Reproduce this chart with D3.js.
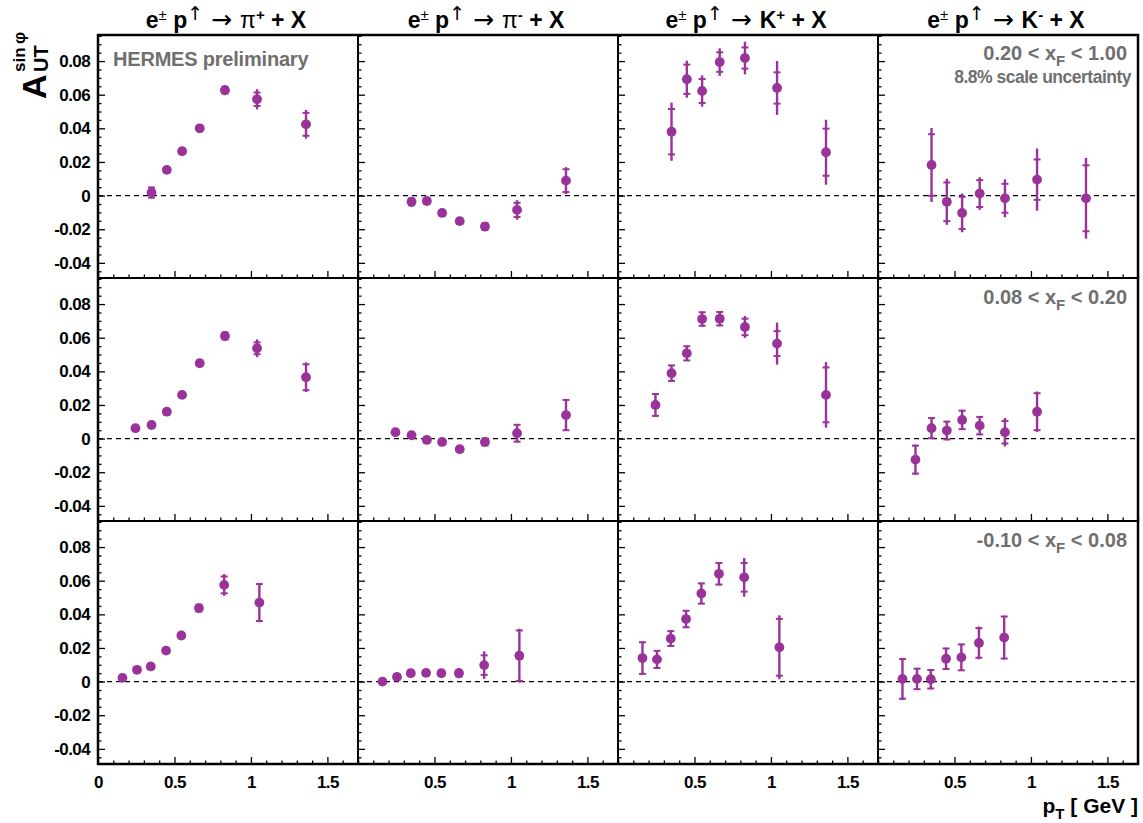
<!DOCTYPE html>
<html>
<head>
<meta charset="utf-8">
<script src="https://cdn.jsdelivr.net/npm/d3@7"></script>
<style>
  body { margin: 0; background: #fff; }
  text { font-family: "Liberation Sans", Arial, sans-serif; }
</style>
</head>
<body>
<div class="chart"></div>
<script>
// pT bin centres (GeV) for the three xF ranges
const pTHigh = [0.35, 0.45, 0.55, 0.665, 0.83, 1.04, 1.36];
const pTMid = [0.245, 0.35, 0.45, 0.55, 0.665, 0.83, 1.04, 1.36];
const pTLow = [0.16, 0.255, 0.345, 0.445, 0.545, 0.66, 0.825, 1.055];

// 0.20 < xF < 1.00
const piPlusHigh = [0.0018, 0.0153, 0.0264, 0.040, 0.0627, 0.0573, 0.0424];
const piPlusHighStat = [0.003, 0.0015, 0.0015, 0.0015, 0.002, 0.004, 0.0068];
const piPlusHighTot = [0.0035, 0.002, 0.002, 0.002, 0.003, 0.006, 0.0085];
const piMinusHigh = [-0.0037, -0.0032, -0.0103, -0.0152, -0.0184, -0.0085, 0.0089];
const piMinusHighStat = [0.002, 0.0015, 0.0015, 0.0015, 0.002, 0.0042, 0.0068];
const piMinusHighTot = [0.003, 0.002, 0.002, 0.002, 0.0028, 0.0058, 0.008];
const kPlusHigh = [0.038, 0.0692, 0.0622, 0.0794, 0.0818, 0.064, 0.0258];
const kPlusHighStat = [0.0135, 0.0087, 0.0071, 0.0058, 0.0063, 0.0093, 0.014];
const kPlusHighTot = [0.0173, 0.011, 0.0093, 0.0082, 0.0097, 0.016, 0.0193];
const kMinusHigh = [0.0182, -0.0037, -0.0103, 0.0012, -0.0016, 0.0095, -0.0016];
const kMinusHighStat = [0.0183, 0.0115, 0.0096, 0.008, 0.0086, 0.012, 0.0196];
const kMinusHighTot = [0.022, 0.0137, 0.0115, 0.0097, 0.0113, 0.0185, 0.024];

// 0.08 < xF < 0.20
const piPlusMid = [0.0062, 0.0081, 0.016, 0.026, 0.0448, 0.061, 0.0537, 0.0365];
const piPlusMidStat = [0.0015, 0.0015, 0.0015, 0.0015, 0.0015, 0.002, 0.0035, 0.0077];
const piPlusMidTot = [0.002, 0.002, 0.002, 0.002, 0.002, 0.0025, 0.0053, 0.0088];
const piMinusMid = [0.0038, 0.002, -0.0008, -0.002, -0.0063, -0.002, 0.0032, 0.014];
const piMinusMidStat = [0.0015, 0.0015, 0.0015, 0.0015, 0.0015, 0.002, 0.005, 0.009];
const piMinusMidTot = [0.002, 0.002, 0.002, 0.002, 0.002, 0.0025, 0.0055, 0.0095];
const kPlusMid = [0.020, 0.0389, 0.0507, 0.0711, 0.0713, 0.0664, 0.0565, 0.026];
const kPlusMidStat = [0.0065, 0.0046, 0.0042, 0.004, 0.004, 0.0049, 0.0074, 0.0163];
const kPlusMidTot = [0.007, 0.005, 0.0046, 0.0044, 0.0044, 0.0065, 0.0125, 0.0195];
const kMinusMid = [-0.0125, 0.0062, 0.0048, 0.0111, 0.0077, 0.0038, 0.016];
const kMinusMidStat = [0.0083, 0.006, 0.0053, 0.0055, 0.0052, 0.0067, 0.011];
const kMinusMidTot = [0.009, 0.0065, 0.0058, 0.006, 0.0057, 0.0085, 0.012];

// -0.10 < xF < 0.08
const piPlusLow = [0.0022, 0.007, 0.009, 0.0184, 0.0274, 0.0437, 0.0575, 0.047];
const piPlusLowStat = [0.0015, 0.0015, 0.0015, 0.0015, 0.0015, 0.002, 0.005, 0.011];
const piPlusLowTot = [0.002, 0.002, 0.002, 0.002, 0.002, 0.0025, 0.0065, 0.0115];
const piMinusLow = [0.0, 0.0028, 0.005, 0.0052, 0.005, 0.005, 0.0098, 0.0154];
const piMinusLowStat = [0.0015, 0.0015, 0.0015, 0.0015, 0.0015, 0.002, 0.0058, 0.015];
const piMinusLowTot = [0.002, 0.002, 0.002, 0.002, 0.002, 0.003, 0.0082, 0.016];
const kPlusLow = [0.014, 0.0132, 0.0256, 0.0372, 0.0524, 0.0641, 0.062, 0.0204];
const kPlusLowStat = [0.0094, 0.0051, 0.0044, 0.0049, 0.006, 0.0064, 0.0085, 0.0169];
const kPlusLowTot = [0.0098, 0.0055, 0.0048, 0.0053, 0.0064, 0.0068, 0.0115, 0.019];
const kMinusLow = [0.0016, 0.0016, 0.0014, 0.0136, 0.0144, 0.023, 0.0262];
const kMinusLowStat = [0.0118, 0.0061, 0.0055, 0.0061, 0.0077, 0.0088, 0.0125];
const kMinusLowTot = [0.0125, 0.0065, 0.0059, 0.0065, 0.0081, 0.0097, 0.013];

const hadrons = [["\u03c0", "+"], ["\u03c0", "-"], ["K", "+"], ["K", "-"]];
const xFLabels = [["0.20 < x", "F", " < 1.00"], ["0.08 < x", "F", " < 0.20"], ["-0.10 < x", "F", " < 0.08"]];
const yMajor = [-0.04, -0.02, 0, 0.02, 0.04, 0.06, 0.08];
const xMajor = [0, 0.5, 1, 1.5];

const panels = [
  [pTHigh, piPlusHigh, piPlusHighStat, piPlusHighTot],
  [pTHigh, piMinusHigh, piMinusHighStat, piMinusHighTot],
  [pTHigh, kPlusHigh, kPlusHighStat, kPlusHighTot],
  [pTHigh, kMinusHigh, kMinusHighStat, kMinusHighTot],
  [pTMid, piPlusMid, piPlusMidStat, piPlusMidTot],
  [pTMid, piMinusMid, piMinusMidStat, piMinusMidTot],
  [pTMid, kPlusMid, kPlusMidStat, kPlusMidTot],
  [pTMid, kMinusMid, kMinusMidStat, kMinusMidTot],
  [pTLow, piPlusLow, piPlusLowStat, piPlusLowTot],
  [pTLow, piMinusLow, piMinusLowStat, piMinusLowTot],
  [pTLow, kPlusLow, kPlusLowStat, kPlusLowTot],
  [pTLow, kMinusLow, kMinusLowStat, kMinusLowTot]
].map((p, i) => ({
  row: Math.floor(i / 4),
  col: i % 4,
  points: p[1].map((v, j) => ({ pT: p[0][j], value: v, stat: p[2][j], tot: p[3][j] }))
}));

const W = 1143, H = 823;
const marginL = 98, marginT = 35, panelW = 260, panelH = 243;
const purple = "#993399", grey = "#6f6f6f";

const svg = d3.select(".chart").append("svg").attr("width", W).attr("height", H);

const x = d3.scaleLinear().domain([0, 1.7]).range([0, panelW]);
const y = d3.scaleLinear().domain([-0.049, 0.0955]).range([panelH, 0]);

const yMinor = d3.range(-45, 96, 5).map(d => d / 1000).filter(d => !yMajor.some(m => Math.abs(m - d) < 1e-9));
const xMinor = d3.range(0, 17.5, 1).map(d => d / 10).filter(d => !xMajor.some(m => Math.abs(m - d) < 1e-9));

// rich text helper: parts of {t, size, weight, shift, family}
const rich = (sel, parts) => {
  let shift = 0;
  parts.forEach(p => {
    const s = p.shift || 0;
    const ts = sel.append("tspan")
      .attr("dy", s - shift)
      .attr("font-size", p.size)
      .attr("font-weight", p.weight || "bold")
      .text(p.t);
    if (p.family) ts.style("font-family", p.family);
    shift = s;
  });
};

panels.forEach(panel => {
  const g = svg.append("g")
    .attr("transform", `translate(${marginL + panel.col * panelW},${marginT + panel.row * panelH})`);

  g.append("line")
    .attr("x1", 0).attr("x2", panelW)
    .attr("y1", y(0)).attr("y2", y(0))
    .attr("stroke", "#000").attr("stroke-width", 1.3)
    .attr("stroke-dasharray", "5,4");

  const pts = g.selectAll(".pt").data(panel.points).enter().append("g");

  pts.append("line")
    .attr("x1", d => x(d.pT)).attr("x2", d => x(d.pT))
    .attr("y1", d => y(d.value - d.tot)).attr("y2", d => y(d.value + d.tot))
    .attr("stroke", purple).attr("stroke-width", 2.4);

  [-1, 1].forEach(sgn => {
    pts.append("line")
      .attr("x1", d => x(d.pT) - 3.5).attr("x2", d => x(d.pT) + 3.5)
      .attr("y1", d => y(d.value + sgn * d.stat)).attr("y2", d => y(d.value + sgn * d.stat))
      .attr("stroke", purple).attr("stroke-width", 2);
  });

  pts.append("circle")
    .attr("cx", d => x(d.pT)).attr("cy", d => y(d.value))
    .attr("r", 4.9).attr("fill", purple);

  // y ticks (inward) and labels on the first column
  g.append("g").call(
    d3.axisLeft(y).tickValues(yMajor).tickSize(-7).tickPadding(8)
      .tickFormat(d => panel.col === 0 ? (d === 0 ? "0" : d.toFixed(2)) : "")
  );
  g.append("g").call(d3.axisLeft(y).tickValues(yMinor).tickSize(-3.5).tickFormat(""));

  // x ticks (inward) and labels on the bottom row
  g.append("g").attr("transform", `translate(0,${panelH})`).call(
    d3.axisBottom(x).tickValues(xMajor).tickSize(-7).tickPadding(12)
      .tickFormat(d => panel.row === 2 && !(d === 0 && panel.col > 0) ? String(d) : "")
  );
  g.append("g").attr("transform", `translate(0,${panelH})`)
    .call(d3.axisBottom(x).tickValues(xMinor).tickSize(-3.5).tickFormat(""));

  g.selectAll(".domain").remove();
  g.selectAll(".tick line").attr("stroke", "#000").attr("stroke-width", 1.3);
  g.selectAll(".tick text")
    .attr("fill", "#000").attr("font-size", 17).attr("font-weight", "bold")
    .attr("letter-spacing", -0.6)
    .style("font-family", "'Liberation Sans', Arial, sans-serif");

  g.append("rect")
    .attr("width", panelW).attr("height", panelH)
    .attr("fill", "none").attr("stroke", "#000").attr("stroke-width", 2);

  if (panel.col === 3) {
    const lab = xFLabels[panel.row];
    const t = g.append("text")
      .attr("x", panelW - 11).attr("y", panel.row === 0 ? 25 : 26)
      .attr("text-anchor", "end").attr("fill", grey);
    rich(t, [
      { t: lab[0], size: 20 },
      { t: lab[1], size: 15, shift: 6 },
      { t: lab[2], size: 20 }
    ]);
  }
});

// outer frame
svg.append("rect")
  .attr("x", marginL).attr("y", marginT)
  .attr("width", panelW * 4).attr("height", panelH * 3)
  .attr("fill", "none").attr("stroke", "#000").attr("stroke-width", 2.5);

// column titles
hadrons.forEach((h, i) => {
  const t = svg.append("text")
    .attr("x", marginL + i * panelW + panelW / 2 - 2).attr("y", 28)
    .attr("text-anchor", "middle").attr("fill", "#000");
  rich(t, [
    { t: "e", size: 23 },
    { t: "\u00b1", size: 15, weight: "normal", shift: -8 },
    { t: " p", size: 23 },
    { t: "\u2191", size: 19, weight: "normal", shift: -8, family: "'DejaVu Sans'" },
    { t: " \u2192 ", size: 25, weight: "normal", family: "'DejaVu Sans'" },
    { t: h[0], size: 23, weight: h[0] === "K" ? "bold" : "normal" },
    { t: h[1], size: 15, shift: -8 },
    { t: " + X", size: 23 }
  ]);
});

// annotations
svg.append("text")
  .attr("x", marginL + 15).attr("y", marginT + 31)
  .attr("fill", grey).attr("font-size", 20).attr("font-weight", "bold")
  .attr("letter-spacing", -0.2)
  .text("HERMES preliminary");

svg.append("text")
  .attr("x", marginL + 4 * panelW - 7).attr("y", 83)
  .attr("text-anchor", "end")
  .attr("fill", grey).attr("font-size", 17.5).attr("font-weight", "bold")
  .attr("letter-spacing", -0.5)
  .text("8.8% scale uncertainty");

// y axis title
const yt = svg.append("text")
  .attr("transform", "translate(46,99) rotate(-90)")
  .attr("fill", "#000");
yt.append("tspan").attr("font-size", 34).attr("font-weight", "bold").text("A");
yt.append("tspan").attr("x", 27).attr("dy", -21)
  .attr("font-size", 17).attr("font-weight", "bold").text("sin\u2009\u03c6");
yt.append("tspan").attr("x", 27).attr("dy", 23)
  .attr("font-size", 20).attr("font-weight", "bold").text("UT");

// x axis title
const xt = svg.append("text")
  .attr("x", marginL + 4 * panelW).attr("y", 813)
  .attr("text-anchor", "end").attr("fill", "#000");
rich(xt, [
  { t: "p", size: 21 },
  { t: "T", size: 15, shift: 6 },
  { t: " [ GeV ]", size: 21 }
]);
</script>
</body>
</html>
